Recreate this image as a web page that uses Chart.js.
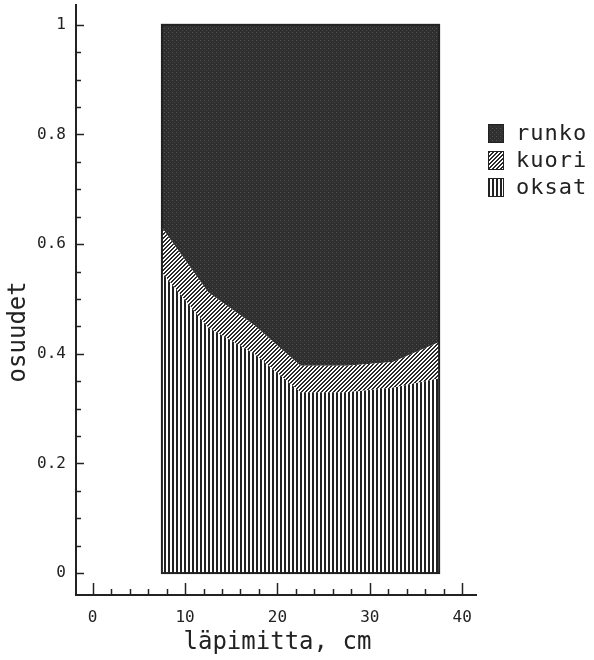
<!DOCTYPE html>
<html>
<head>
<meta charset="utf-8">
<script src="https://cdn.jsdelivr.net/npm/chart.js@4"></script>
<style>
  html, body { margin: 0; padding: 0; background: #ffffff; }
  #wrap { width: 594px; height: 660px; }
</style>
</head>
<body>
<div id="wrap"><canvas id="c" width="594" height="660"></canvas></div>
<script>
// Diameter classes (cm) and the share of each biomass component
const diameters = [7.5, 12.5, 17.5, 22.5, 27.5, 32.5, 37.5];
const oksat = [0.548, 0.448, 0.400, 0.330, 0.330, 0.338, 0.355];
const kuori = [0.082, 0.064, 0.052, 0.048, 0.048, 0.047, 0.066];
const runko = [0.370, 0.488, 0.548, 0.622, 0.622, 0.615, 0.579];

const seriesNames = ['oksat', 'kuori', 'runko'];
const xTickLabels = [0, 10, 20, 30, 40];
const yTickLabels = [0, 0.2, 0.4, 0.6, 0.8, 1];
const xTitle = 'läpimitta, cm';
const yTitle = 'osuudet';

const INK = '#222222';
const MONO = '"DejaVu Sans Mono", "Liberation Mono", monospace';

// --- fill patterns ---------------------------------------------------------
function makeTile(w, h, paint) {
  const cv = document.createElement('canvas');
  cv.width = w; cv.height = h;
  const g = cv.getContext('2d');
  paint(g);
  return document.createElement('canvas').getContext('2d').createPattern(cv, 'repeat');
}
// dark stippled fill
const runkoFill = makeTile(4, 4, g => {
  g.fillStyle = '#2f2f2f'; g.fillRect(0, 0, 4, 4);
  g.fillStyle = '#555555'; g.fillRect(0, 0, 1, 1);
  g.fillStyle = '#454545'; g.fillRect(2, 2, 1, 1);
});
// diagonal hatching
const kuoriFill = makeTile(4, 4, g => {
  g.fillStyle = '#ffffff'; g.fillRect(0, 0, 4, 4);
  g.fillStyle = '#2a2a2a';
  for (let x = 0; x < 4; x++) for (let y = 0; y < 4; y++) {
    const k = (x + y) % 4;
    if (k === 0 || k === 1) g.fillRect(x, y, 1, 1);
  }
});
// vertical stripes
const oksatFill = makeTile(4, 4, g => {
  g.fillStyle = '#ffffff'; g.fillRect(0, 0, 4, 4);
  g.fillStyle = '#222222'; g.fillRect(0, 0, 2, 4);
});

const toPoints = arr => arr.map((v, i) => ({ x: diameters[i], y: v }));

// --- axes, frame and legend drawn on top of the areas --------------------
const decor = {
  id: 'decor',
  afterDatasetsDraw(chart) {
    const ctx = chart.ctx;
    const xs = chart.scales.x, ys = chart.scales.y;
    const ca = chart.chartArea;
    ctx.save();

    // frame round the stacked block
    const fx0 = xs.getPixelForValue(diameters[0]);
    const fx1 = xs.getPixelForValue(diameters[diameters.length - 1]);
    const fy0 = ys.getPixelForValue(0);
    const fy1 = ys.getPixelForValue(1);
    ctx.strokeStyle = INK;
    ctx.lineWidth = 2;
    ctx.strokeRect(fx0, fy1, fx1 - fx0, fy0 - fy1);

    // axis lines
    ctx.lineWidth = 2;
    ctx.beginPath();
    ctx.moveTo(ca.left, ca.top);
    ctx.lineTo(ca.left, ca.bottom);
    ctx.lineTo(ca.right, ca.bottom);
    ctx.stroke();

    // y ticks (inward) every 0.05, labelled every 0.2
    ctx.lineWidth = 1.5;
    for (let i = 0; i <= 20; i++) {
      const v = i * 0.05;
      const py = Math.round(ys.getPixelForValue(v)) + 0.5;
      const major = i % 4 === 0;
      ctx.beginPath();
      ctx.moveTo(ca.left, py);
      ctx.lineTo(ca.left + (major ? 8 : 5), py);
      ctx.stroke();
    }
    // x ticks (inward) every 2, labelled every 10
    for (let v = 0; v <= 40; v += 2) {
      const px = Math.round(xs.getPixelForValue(v)) + 0.5;
      const major = v % 10 === 0;
      ctx.beginPath();
      ctx.moveTo(px, ca.bottom);
      ctx.lineTo(px, ca.bottom - (major ? 12 : 6));
      ctx.stroke();
    }

    // tick labels
    ctx.fillStyle = INK;
    ctx.font = '16px ' + MONO;
    ctx.textAlign = 'right';
    ctx.textBaseline = 'middle';
    yTickLabels.forEach(v => {
      ctx.fillText(String(v), ca.left - 10, ys.getPixelForValue(v));
    });
    ctx.textAlign = 'center';
    xTickLabels.forEach(v => {
      ctx.fillText(String(v), xs.getPixelForValue(v), ca.bottom + 23);
    });

    // axis titles
    ctx.font = '24px ' + MONO;
    ctx.fillText(xTitle, (xs.getPixelForValue(0) + xs.getPixelForValue(40)) / 2 - 0, ca.bottom + 48);
    ctx.save();
    ctx.translate(19, ys.getPixelForValue(0.44));
    ctx.rotate(-Math.PI / 2);
    ctx.fillText(yTitle, 0, 0);
    ctx.restore();

    // legend, top entry is the top layer
    ctx.font = '22px ' + MONO;
    ctx.textAlign = 'left';
    ctx.letterSpacing = '1px';
    const order = [2, 1, 0];
    order.forEach((di, row) => {
      const ds = chart.data.datasets[di];
      const cy = 133 + row * 27;
      ctx.fillStyle = ds.backgroundColor;
      ctx.fillRect(488, cy - 9, 16, 19);
      ctx.strokeStyle = INK;
      ctx.lineWidth = 1;
      ctx.strokeRect(488.5, cy - 8.5, 15, 18);
      ctx.fillStyle = INK;
      ctx.fillText(ds.label, 516, cy + 1);
    });

    ctx.restore();
  }
};

new Chart(document.getElementById('c'), {
  type: 'line',
  data: {
    datasets: [
      { label: seriesNames[0], data: toPoints(oksat), backgroundColor: oksatFill, fill: 'origin' },
      { label: seriesNames[1], data: toPoints(kuori), backgroundColor: kuoriFill, fill: '-1' },
      { label: seriesNames[2], data: toPoints(runko), backgroundColor: runkoFill, fill: '-1' }
    ].map(d => Object.assign(d, {
      borderWidth: 0,
      borderColor: 'rgba(0,0,0,0)',
      pointRadius: 0,
      tension: 0
    }))
  },
  options: {
    responsive: false,
    animation: false,
    devicePixelRatio: 1,
    layout: { padding: { left: 76, right: 117, top: 4, bottom: 65 } },
    plugins: { legend: { display: false }, tooltip: { enabled: false } },
    scales: {
      x: { type: 'linear', min: -1.8, max: 41.6, display: false },
      y: { stacked: true, min: -0.04, max: 1.038, display: false }
    }
  },
  plugins: [decor]
});
</script>
</body>
</html>
